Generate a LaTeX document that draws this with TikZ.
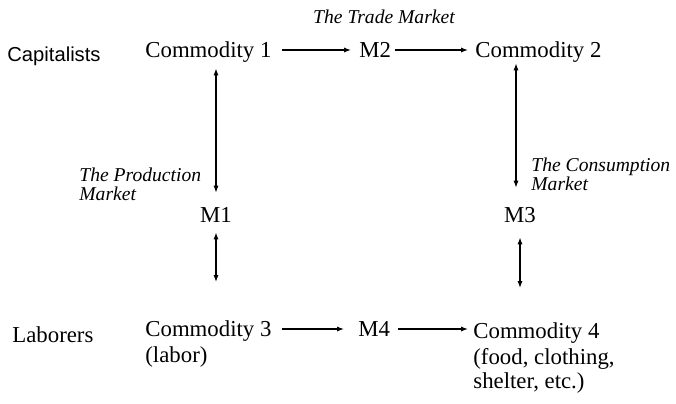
\documentclass[tikz,border=0pt]{standalone}
\usepackage{fontspec}
\setmainfont{Liberation Serif}
\newfontfamily\sansfam{Liberation Sans}
\usetikzlibrary{arrows.meta}
\begin{document}
\begin{tikzpicture}[x=0.5pt,y=-0.5pt,
		item/.style={inner sep=0pt,anchor=base west,font=\fontsize{11.4}{12}\selectfont,text height=8pt,text depth=1pt},
		note/.style={inner sep=0pt,anchor=base west,align=left,font=\fontsize{11.4}{12}\selectfont},
		market/.style={inner sep=0pt,anchor=base west,align=left,font=\fontsize{9.8}{9.5}\selectfont\itshape},
		flow/.style={line width=0.6pt,-{Latex[length=3.5pt,width=2.6pt]}},
		swap/.style={line width=0.6pt,{Latex[length=3.5pt,width=2.6pt]}-{Latex[length=3.5pt,width=2.6pt]}}]
	\useasboundingbox (0,0) rectangle (676,403);
%					Top row :
	\node[item,font=\fontsize{10.1}{12}\sansfam] (cap) at (7,61) {Capitalists};
	\node[item] (c1) at (145,57) {Commodity 1};
	\node[item] (m2) at (359,57) {M2};
	\node[item] (c2) at (475,57) {Commodity 2};
	\node[market,anchor=base] (trade) at (384,23) {The Trade Market};
%					Middle row (base = last line) :
	\node[item,anchor=base] (m1) at (216,222) {M1};
	\node[item,anchor=base] (m3) at (520,222) {M3};
	\node[market] (prod) at (79,200) {The Production\\Market};
	\node[market] (cons) at (531,190) {The Consumption\\Market};
	\coordinate (m1end) at (216,282);
	\coordinate (m3end) at (520,288);
%					Bottom row :
	\node[item] (lab) at (12,342) {Laborers};
	\node[item] (c3) at (145,336) {Commodity 3};
	\node[note] (c3note) at (145,362) {(labor)};
	\node[item] (m4) at (358,336) {M4};
	\node[item] (c4) at (473,338) {Commodity 4};
	\node[note] (c4note) at (473,388) {(food, clothing,\\shelter, etc.)};
%					Arrows :
	\draw[flow,shorten <=5pt,shorten >=4pt] (c1.east) -- (m2.west);
	\draw[flow,shorten <=2pt,shorten >=3.5pt] (m2.east) -- (c2.west);
	\draw[flow,shorten <=5pt,shorten >=7pt] (c3.east) -- (m4.west);
	\draw[flow,shorten <=4pt,shorten >=2.5pt] (m4.east) -- (c4.west |- m4.east);
	\draw[swap,shorten <=4.5pt,shorten >=6.5pt] (m1.north |- c1.south) -- (m1.north);
	\draw[swap,shorten <=4pt] (m1.south) -- (m1end);
	\draw[swap,shorten <=2pt,shorten >=9pt] ([xshift=-2pt]m3.north |- c2.south) -- ([xshift=-2pt]m3.north);
	\draw[swap,shorten <=6.5pt] (m3.south) -- (m3end);
\end{tikzpicture}
\end{document}
